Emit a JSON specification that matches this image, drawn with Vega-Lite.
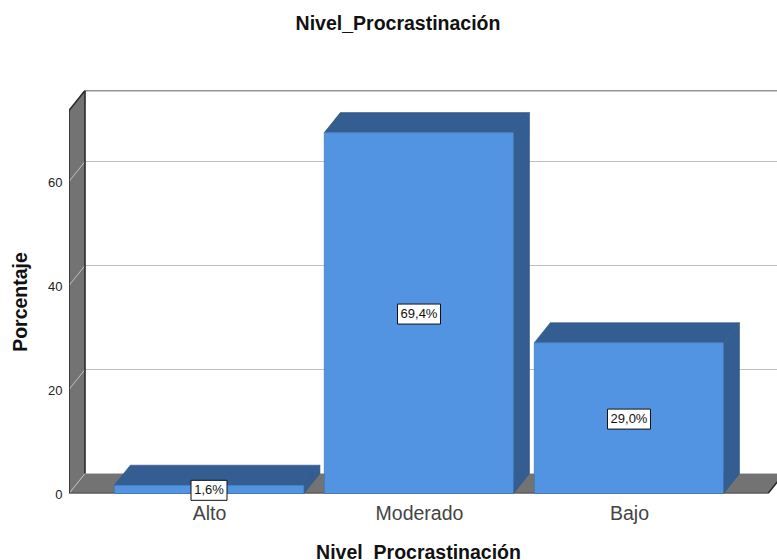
{
  "$schema": "https://vega.github.io/schema/vega-lite/v6.json",
  "width": 708,
  "height": 403,
  "padding": {"left": 69, "top": 90.5, "right": 0, "bottom": 66.5},
  "autosize": "none",
  "background": "white",
  "config": {"view": {"stroke": null}, "font": "Liberation Sans"},
  "title": {"text": "Nivel_Procrastinación", "font": "Liberation Sans", "fontSize": 19.5, "fontWeight": "bold", "color": "#111111", "dx": -25, "offset": 56},
  "datasets": {
    "barras": [
      {"nivel": "Alto", "porcentaje": 1.6, "etiqueta": "1,6%", "centro": 1, "mitad": 0.8, "inicio": 0.549, "fin": 1.452},
      {"nivel": "Moderado", "porcentaje": 69.4, "etiqueta": "69,4%", "centro": 2, "mitad": 34.7, "inicio": 1.549, "fin": 2.45},
      {"nivel": "Bajo", "porcentaje": 29.0, "etiqueta": "29,0%", "centro": 3, "mitad": 14.5, "inicio": 2.549, "fin": 3.45}
    ],
    "caras": [
      {"cara": "pared", "tipo": "caja", "x": 0.3333, "y": 73.654, "y2": 0},
      {"cara": "pared", "tipo": "caja", "x": 0.4095, "y": 77.5, "y2": 3.846},
      {"cara": "suelo", "tipo": "caja", "x": 0.3333, "y": 0, "y2": 0},
      {"cara": "suelo", "tipo": "caja", "x": 0.4095, "y": 3.846, "y2": 0},
      {"cara": "suelo", "tipo": "caja", "x": 3.6619, "y": 3.846, "y2": 0},
      {"cara": "suelo", "tipo": "caja", "x": 3.7381, "y": 3.846, "y2": 3.846}
    ],
    "volumen": [
      {"cara": "alto-techo", "x": 0.549, "y": 1.6, "y2": 1.6},
      {"cara": "alto-techo", "x": 0.6252, "y": 5.446, "y2": 1.6},
      {"cara": "alto-techo", "x": 1.452, "y": 5.446, "y2": 1.6},
      {"cara": "alto-techo", "x": 1.5282, "y": 5.446, "y2": 5.446},
      {"cara": "alto-lado", "x": 1.452, "y": 1.6, "y2": 0},
      {"cara": "alto-lado", "x": 1.5282, "y": 5.446, "y2": 3.846},
      {"cara": "moderado-techo", "x": 1.549, "y": 69.4, "y2": 69.4},
      {"cara": "moderado-techo", "x": 1.6252, "y": 73.246, "y2": 69.4},
      {"cara": "moderado-techo", "x": 2.45, "y": 73.246, "y2": 69.4},
      {"cara": "moderado-techo", "x": 2.5262, "y": 73.246, "y2": 73.246},
      {"cara": "moderado-lado", "x": 2.45, "y": 69.4, "y2": 0},
      {"cara": "moderado-lado", "x": 2.5262, "y": 73.246, "y2": 3.846},
      {"cara": "bajo-techo", "x": 2.549, "y": 29.0, "y2": 29.0},
      {"cara": "bajo-techo", "x": 2.6252, "y": 32.846, "y2": 29.0},
      {"cara": "bajo-techo", "x": 3.45, "y": 32.846, "y2": 29.0},
      {"cara": "bajo-techo", "x": 3.5262, "y": 32.846, "y2": 32.846},
      {"cara": "bajo-lado", "x": 3.45, "y": 29.0, "y2": 0},
      {"cara": "bajo-lado", "x": 3.5262, "y": 32.846, "y2": 3.846}
    ],
    "rejilla": [
      {"linea": "g0", "x": 0.3333, "y": 0},
      {"linea": "g0", "x": 0.4095, "y": 3.846},
      {"linea": "g0", "x": 3.7381, "y": 3.846},
      {"linea": "g20", "x": 0.3333, "y": 20},
      {"linea": "g20", "x": 0.4095, "y": 23.846},
      {"linea": "g20", "x": 3.7381, "y": 23.846},
      {"linea": "g40", "x": 0.3333, "y": 40},
      {"linea": "g40", "x": 0.4095, "y": 43.846},
      {"linea": "g40", "x": 3.7381, "y": 43.846},
      {"linea": "g60", "x": 0.3333, "y": 60},
      {"linea": "g60", "x": 0.4095, "y": 63.846},
      {"linea": "g60", "x": 3.7381, "y": 63.846}
    ],
    "marco": [
      {"linea": "borde", "orden": 1, "x": 3.7381, "y": 3.846},
      {"linea": "borde", "orden": 2, "x": 3.6619, "y": 0},
      {"linea": "borde", "orden": 3, "x": 0.3333, "y": 0},
      {"linea": "borde", "orden": 4, "x": 0.3333, "y": 73.654},
      {"linea": "borde", "orden": 5, "x": 0.4095, "y": 77.5},
      {"linea": "borde", "orden": 6, "x": 3.7381, "y": 77.5},
      {"linea": "fondo", "orden": 1, "x": 0.4095, "y": 77.5},
      {"linea": "fondo", "orden": 2, "x": 0.4095, "y": 3.846}
    ]
  },
  "encoding": {
    "x": {
      "type": "quantitative",
      "scale": {"domain": [0.3333, 3.7048], "nice": false, "zero": false}
    },
    "y": {
      "type": "quantitative",
      "scale": {"domain": [0, 77.5], "nice": false, "zero": false}
    }
  },
  "layer": [
    {
      "data": {"name": "caras"},
      "mark": {"type": "area", "color": "#737373", "clip": true},
      "encoding": {
        "x": {
          "field": "x", "type": "quantitative",
          "axis": {
            "values": [1, 2, 3],
            "labelExpr": "datum.value == 1 ? 'Alto' : datum.value == 2 ? 'Moderado' : 'Bajo'",
            "labelFont": "Liberation Sans", "labelFontSize": 19.5, "labelColor": "#444444", "labelPadding": 11,
            "ticks": false, "domain": false, "grid": false,
            "title": "Nivel_Procrastinación", "titleFont": "Liberation Sans", "titleFontSize": 19.5, "titleFontWeight": "bold", "titleColor": "#111111",
            "titleX": 349, "titleY": 59, "titleBaseline": "middle", "titleAlign": "center"
          }
        },
        "y": {
          "field": "y", "type": "quantitative",
          "axis": {
            "values": [0, 20, 40, 60],
            "labelFont": "Liberation Sans", "labelFontSize": 13, "labelColor": "#222222", "labelPadding": 7, "labelOffset": 1,
            "ticks": false, "domain": false, "grid": false,
            "title": "Porcentaje", "titleFont": "Liberation Sans", "titleFontSize": 19.5, "titleFontWeight": "bold", "titleColor": "#111111",
            "titleX": -49, "titleY": 211, "titleAngle": -90, "titleBaseline": "middle", "titleAlign": "center"
          }
        },
        "y2": {"field": "y2"},
        "detail": {"field": "cara"}
      }
    },
    {
      "data": {"name": "rejilla"},
      "mark": {"type": "line", "color": "#bfbfbf", "strokeWidth": 1, "clip": true},
      "encoding": {
        "x": {"field": "x", "type": "quantitative"},
        "y": {"field": "y", "type": "quantitative"},
        "detail": {"field": "linea"}
      }
    },
    {
      "data": {"name": "marco"},
      "mark": {"type": "line", "color": "#2b2b2b", "strokeWidth": 1.6, "clip": true},
      "encoding": {
        "x": {"field": "x", "type": "quantitative"},
        "y": {"field": "y", "type": "quantitative"},
        "detail": {"field": "linea"},
        "order": {"field": "orden"}
      }
    },
    {
      "data": {"name": "volumen"},
      "mark": {"type": "area", "color": "#345d92", "stroke": "#2f5585", "strokeWidth": 0.6},
      "encoding": {
        "x": {"field": "x", "type": "quantitative"},
        "y": {"field": "y", "type": "quantitative"},
        "y2": {"field": "y2"},
        "detail": {"field": "cara"}
      }
    },
    {
      "data": {"name": "barras"},
      "mark": {"type": "rect", "color": "#5294e2", "stroke": "#3f72ad", "strokeWidth": 0.7},
      "encoding": {
        "x": {"field": "inicio", "type": "quantitative"},
        "x2": {"field": "fin"},
        "y": {"field": "porcentaje", "type": "quantitative"},
        "y2": {"datum": 0}
      }
    },
    {
      "data": {"name": "barras"},
      "transform": [{"filter": "datum.nivel != 'Alto'"}],
      "mark": {"type": "rect", "width": 43, "height": 20, "yOffset": 1, "fill": "white", "stroke": "#111111", "strokeWidth": 1},
      "encoding": {
        "x": {"field": "centro", "type": "quantitative"},
        "y": {"field": "mitad", "type": "quantitative"}
      }
    },
    {
      "data": {"name": "barras"},
      "transform": [{"filter": "datum.nivel == 'Alto'"}],
      "mark": {"type": "rect", "width": 36, "height": 20, "yOffset": 1, "fill": "white", "stroke": "#111111", "strokeWidth": 1},
      "encoding": {
        "x": {"field": "centro", "type": "quantitative"},
        "y": {"field": "mitad", "type": "quantitative"}
      }
    },
    {
      "data": {"name": "barras"},
      "mark": {"type": "text", "font": "Liberation Sans", "fontSize": 13, "color": "#111111", "baseline": "middle", "align": "center", "dy": 1},
      "encoding": {
        "x": {"field": "centro", "type": "quantitative"},
        "y": {"field": "mitad", "type": "quantitative"},
        "text": {"field": "etiqueta"}
      }
    }
  ]
}
